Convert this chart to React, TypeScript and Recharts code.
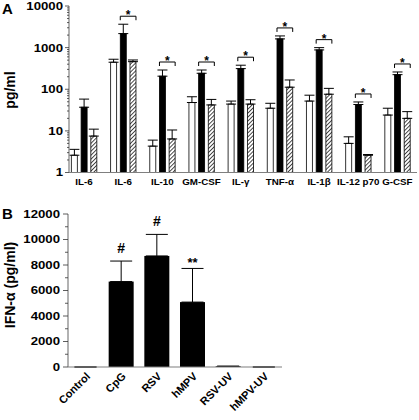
import React from "react";
import { BarChart, Bar, XAxis, YAxis, ErrorBar } from "recharts";

// Panel A: cytokines (log scale)
const cytokines = ["IL-6", "IL-6", "IL-10", "GM-CSF", "IL-γ", "TNF-α", "IL-1β", "IL-12 p70", "G-CSF"];
const whiteMean = [2.6, 446, 4.3, 48, 44, 35, 52, 5.0, 24];
const whiteSd = [1.0, 80, 1.7, 18, 8, 11, 20, 2.2, 11];
const blackMean = [37, 2170, 206, 242, 313, 1620, 880, 43, 224];
const blackSd = [21, 1480, 84, 48, 65, 290, 120, 6.5, 36];
const hatchMean = [7.5, 460, 6.4, 42, 44, 112, 76, 2.6, 20];
const hatchSd = [3.5, 45, 4.1, 15, 12, 55, 29, 0.1, 9];
const significant = [false, true, true, true, true, true, true, true, true];
const logMajorTicks = [1, 10, 100, 1000, 10000];
const logMinorTicks = [
  2, 3, 4, 5, 6, 7, 8, 9, 20, 30, 40, 50, 60, 70, 80, 90, 200, 300, 400, 500, 600, 700, 800, 900,
  2000, 3000, 4000, 5000, 6000, 7000, 8000, 9000,
];

// Panel B: IFN-alpha
const stimuli = ["Control", "CpG", "RSV", "hMPV", "RSV-UV", "hMPV-UV"];
const ifnMean = [0, 6700, 8710, 5090, 60, 0];
const ifnSd = [0, 1610, 1690, 2640, 0, 0];
const ifnMarks = ["", "#", "#", "**", "", ""];
const ifnMajorTicks = [0, 2000, 4000, 6000, 8000, 10000, 12000];
const ifnMinorTicks = [1000, 3000, 5000, 7000, 9000, 11000];

const FONT = "Arial, 'Liberation Sans', Helvetica, sans-serif";
const AXIS = "#7f7f7f";
const GAP_A = 3.7;

const dataA = cytokines.map((name, i) => ({
  name,
  white: whiteMean[i],
  whiteErr: [0, whiteSd[i]],
  black: blackMean[i],
  blackSd: blackSd[i],
  blackErr: [0, blackSd[i]],
  hatch: hatchMean[i],
  hatchErr: [0, hatchSd[i]],
  sig: significant[i],
}));

const dataB = stimuli.map((name, i) => ({
  name,
  value: ifnMean[i],
  sd: ifnSd[i],
  err: [0, ifnSd[i]],
  mark: ifnMarks[i],
}));

function LogTick(props: any) {
  const { x, y, payload } = props;
  const major = logMajorTicks.includes(payload.value);
  return (
    <g>
      <line x1={x - (major ? 4 : 2)} x2={x} y1={y} y2={y} stroke="#333" strokeWidth={0.8} />
      {major && (
        <text
          transform={`translate(${x - 6},${y}) scale(1.2,1)`}
          textAnchor="end"
          dy="0.36em"
          fontSize={11}
          fontWeight="bold"
          fontFamily={FONT}
          fill="#000"
        >
          {payload.value}
        </text>
      )}
    </g>
  );
}

function LinTick(props: any) {
  const { x, y, payload } = props;
  const major = ifnMajorTicks.includes(payload.value);
  return (
    <g>
      <line x1={x - (major ? 5 : 3)} x2={x} y1={y} y2={y} stroke="#333" strokeWidth={0.8} />
      {major && (
        <text
          transform={`translate(${x - 8},${y}) scale(1.2,1)`}
          textAnchor="end"
          dy="0.36em"
          fontSize={11}
          fontWeight="bold"
          fontFamily={FONT}
          fill="#000"
        >
          {payload.value}
        </text>
      )}
    </g>
  );
}

function CytoTick(props: any) {
  const { x, y, payload } = props;
  return (
    <text
      transform={`translate(${x},${y + 12.5}) scale(1.15,1)`}
      textAnchor="middle"
      fontSize={8.5}
      fontWeight="bold"
      fontFamily={FONT}
      fill="#000"
    >
      {payload.value}
    </text>
  );
}

function StimTick(props: any) {
  const { x, y, payload } = props;
  const ax = x + 5;
  const ay = y + 10;
  return (
    <text
      x={ax}
      y={ay}
      transform={`rotate(-45,${ax},${ay})`}
      textAnchor="end"
      fontSize={11}
      fontWeight="bold"
      fontFamily={FONT}
      fill="#000"
    >
      {payload.value}
    </text>
  );
}

// black bar + significance bracket spanning to the hatched bar
function BlackBar(props: any) {
  const { x, y, width, height, payload } = props;
  const rect = <rect x={x} y={y} width={width} height={height} fill="#000" stroke="#000" strokeWidth={0.8} />;
  if (!payload || !payload.sig) return <g>{rect}</g>;
  const perDecade = height / Math.log10(payload.black);
  const errTop = y - Math.log10((payload.black + payload.blackSd) / payload.black) * perDecade;
  const by = errTop - 8;
  const x1 = x;
  const x2 = x + 2 * width + GAP_A;
  return (
    <g>
      {rect}
      <path d={`M${x1},${by + 4}V${by}H${x2}V${by + 4}`} stroke="#000" strokeWidth={1} fill="none" />
      <text
        x={(x1 + x2) / 2}
        y={by + 3}
        textAnchor="middle"
        fontSize={12}
        fontWeight="bold"
        fontFamily={FONT}
        fill="#000"
      >
        *
      </text>
    </g>
  );
}

function IfnBar(props: any) {
  const { x, y, width, height, payload } = props;
  if (!height || height <= 0) return <g />;
  const rect = <rect x={x} y={y} width={width} height={height} fill="#000" />;
  if (!payload || !payload.mark) return <g>{rect}</g>;
  const perUnit = height / payload.value;
  const errTop = y - payload.sd * perUnit;
  const star = payload.mark === "**";
  return (
    <g>
      {rect}
      <text
        x={x + width / 2}
        y={errTop - (star ? 1 : 8)}
        textAnchor="middle"
        fontSize={star ? 13 : 14}
        fontWeight="bold"
        fontFamily={FONT}
        fill="#000"
      >
        {payload.mark}
      </text>
    </g>
  );
}

export default function App() {
  return (
    <div style={{ position: "absolute", left: 0, top: 0, width: 419, height: 420, background: "#fff" }}>
      <svg width={419} height={420} style={{ position: "absolute", left: 0, top: 0 }}>
        <text x={2} y={14} fontSize={15} fontWeight="bold" fontFamily={FONT}>A</text>
        <text
          x={10}
          y={90}
          transform="rotate(-90,10,90)"
          textAnchor="middle"
          dy="0.35em"
          fontSize={14}
          fontWeight="bold"
          fontFamily={FONT}
        >
          pg/ml
        </text>
        <text x={2} y={219} fontSize={15} fontWeight="bold" fontFamily={FONT}>B</text>
        <text
          x={10}
          y={285}
          transform="rotate(-90,10,285)"
          textAnchor="middle"
          dy="0.35em"
          fontSize={14}
          fontWeight="bold"
          fontFamily={FONT}
        >
          IFN-α (pg/ml)
        </text>
      </svg>

      <div style={{ position: "absolute", left: 0, top: 0 }}>
        <BarChart
          width={419}
          height={200}
          data={dataA}
          margin={{ top: 6, right: 2, bottom: 0, left: 0 }}
          barSize={6}
          barGap={GAP_A}
        >
          <defs>
            <pattern id="hatch" patternUnits="userSpaceOnUse" width={2.8} height={2.8} patternTransform="rotate(45)">
              <rect width={2.8} height={2.8} fill="#fff" />
              <line x1={0} y1={0} x2={0} y2={2.8} stroke="#000" strokeWidth={1.4} />
            </pattern>
          </defs>
          <XAxis
            dataKey="name"
            height={27.5}
            interval={0}
            padding={{ left: -4.6, right: 0 }}
            axisLine={{ stroke: AXIS, strokeWidth: 1.2 }}
            tickLine={false}
            tickSize={0}
            tickMargin={0}
            tick={<CytoTick />}
          />
          <YAxis
            type="number"
            scale="log"
            domain={[1, 10000]}
            allowDataOverflow
            ticks={[...logMajorTicks, ...logMinorTicks]}
            interval={0}
            width={69}
            axisLine={{ stroke: AXIS, strokeWidth: 1.2 }}
            tickLine={false}
            tickSize={0}
            tickMargin={0}
            tick={<LogTick />}
          />
          <Bar dataKey="white" fill="#fff" stroke="#000" strokeWidth={0.8} isAnimationActive={false}>
            <ErrorBar dataKey="whiteErr" width={5} stroke="#000" strokeWidth={1} />
          </Bar>
          <Bar dataKey="black" fill="#000" shape={<BlackBar />} isAnimationActive={false}>
            <ErrorBar dataKey="blackErr" width={5} stroke="#000" strokeWidth={1} />
          </Bar>
          <Bar dataKey="hatch" fill="url(#hatch)" stroke="#000" strokeWidth={0.8} isAnimationActive={false}>
            <ErrorBar dataKey="hatchErr" width={5} stroke="#000" strokeWidth={1} />
          </Bar>
        </BarChart>
      </div>

      <div style={{ position: "absolute", left: 0, top: 200 }}>
        <BarChart
          width={419}
          height={220}
          data={dataB}
          margin={{ top: 14, right: 137, bottom: 0, left: 0 }}
          barSize={25}
        >
          <XAxis
            dataKey="name"
            height={53}
            interval={0}
            axisLine={{ stroke: AXIS, strokeWidth: 1.2 }}
            tickLine={false}
            tickSize={0}
            tickMargin={0}
            tick={<StimTick />}
          />
          <YAxis
            type="number"
            domain={[0, 12000]}
            ticks={[...ifnMajorTicks, ...ifnMinorTicks]}
            interval={0}
            width={68}
            axisLine={{ stroke: AXIS, strokeWidth: 1.2 }}
            tickLine={false}
            tickSize={0}
            tickMargin={0}
            tick={<LinTick />}
          />
          <Bar dataKey="value" fill="#000" shape={<IfnBar />} isAnimationActive={false}>
            <ErrorBar dataKey="err" width={11} stroke="#000" strokeWidth={1} />
          </Bar>
        </BarChart>
      </div>
    </div>
  );
}
